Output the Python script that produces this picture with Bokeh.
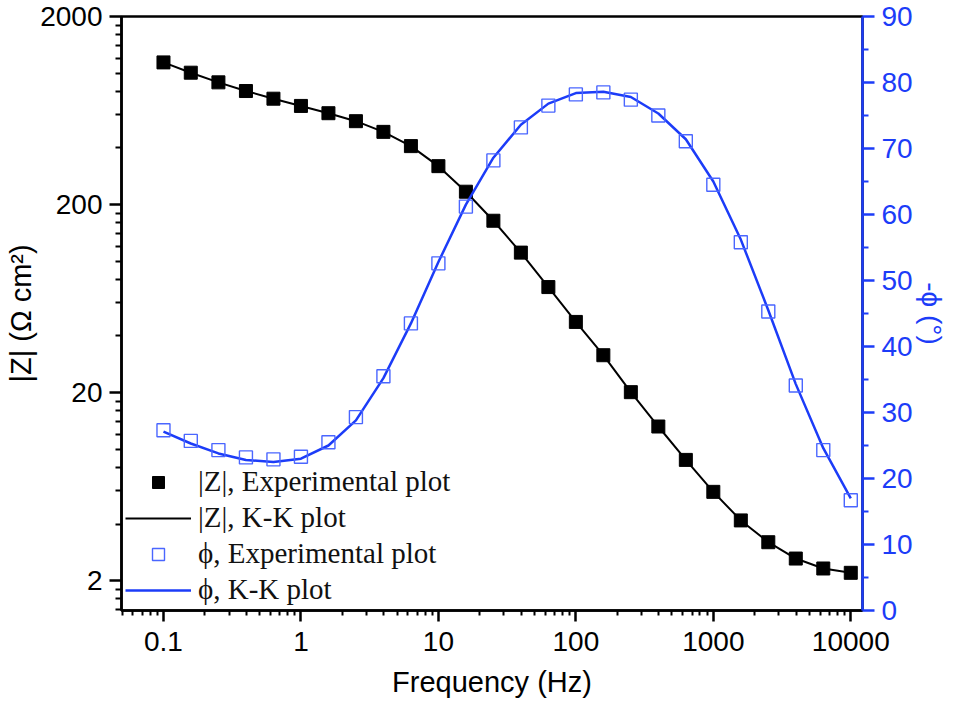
from bokeh.plotting import figure
from bokeh.models import (LinearAxis, Range1d, LinearScale, FixedTicker,
                          CustomJSTickFormatter, Legend, LegendItem)
from bokeh.embed import file_html
from bokeh.resources import INLINE

# ---- data ----
freq = [0.1, 0.158, 0.251, 0.398, 0.631, 1.0, 1.585, 2.512, 3.981, 6.31,
        10.0, 15.85, 25.12, 39.81, 63.1, 100.0, 158.5, 251.2, 398.1, 631.0,
        1000.0, 1585.0, 2512.0, 3981.0, 6310.0, 10000.0]
z_exp = [1140, 1005, 893, 803, 731, 669, 612, 555, 487, 409,
         320, 234, 164, 111, 72.8, 47.5, 31.6, 20.1, 13.2, 8.77,
         5.93, 4.18, 3.20, 2.62, 2.32, 2.20]
z_kk = [1140, 1005, 893, 803, 731, 669, 612, 555, 487, 409,
        320, 234, 164, 111, 72.8, 47.5, 31.6, 20.1, 13.2, 8.77,
        5.93, 4.18, 3.20, 2.62, 2.32, 2.20]
phi_exp = [27.3, 25.7, 24.3, 23.2, 22.9, 23.3, 25.5, 29.3, 35.5, 43.5,
           52.6, 61.2, 68.2, 73.2, 76.5, 78.2, 78.5, 77.4, 75.0, 71.1,
           64.5, 55.8, 45.3, 34.1, 24.3, 16.7]
phi_kk = [27.1, 25.3, 23.8, 22.8, 22.5, 23.0, 25.0, 28.8, 35.2, 43.5,
          52.8, 61.5, 68.6, 73.6, 76.8, 78.4, 78.6, 77.8, 75.3, 71.4,
          65.0, 56.2, 45.5, 34.3, 24.6, 17.0]

x_major = [0.1, 1, 10, 100, 1000, 10000]
y_major = [2, 20, 200, 2000]
phi_major = [0, 10, 20, 30, 40, 50, 60, 70, 80, 90]

BLUE = "#1c3cf8"
BLUE_M = "#4a66ff"
TICK_FONT = "Liberation Sans"

p = figure(width=953, height=701, x_axis_type="log", y_axis_type="log",
           x_range=Range1d(0.0495, 12170), y_range=Range1d(1.387, 2000),
           output_backend="svg", toolbar_location=None,
           min_border_left=121, min_border_right=91,
           min_border_top=16, min_border_bottom=91)
p.extra_y_ranges = {"phase": Range1d(0, 90)}
p.extra_y_scales = {"phase": LinearScale()}
p.grid.visible = False
p.outline_line_color = "black"
p.outline_line_width = 2.5
p.outline_line_alpha = 1.0

# glyphs
zl = p.line(freq, z_kk, color="black", line_width=2)
zs = p.scatter(freq, z_exp, marker="square", size=13, color="black")
pl = p.line(freq, phi_kk, color=BLUE, line_width=2.5, y_range_name="phase")
ps = p.scatter(freq, phi_exp, marker="square", size=13, fill_color=None,
               line_color=BLUE_M, line_width=1.4, y_range_name="phase")

fmt = CustomJSTickFormatter(code="return tick.toString();")

def style_axis(ax, color):
    ax.axis_line_color = color
    ax.axis_line_width = 2.5
    ax.major_tick_line_color = color
    ax.minor_tick_line_color = color
    ax.major_tick_line_width = 2.5
    ax.minor_tick_line_width = 2
    ax.major_tick_in = 0
    ax.major_tick_out = 12
    ax.minor_tick_in = 0
    ax.minor_tick_out = 6
    ax.major_label_text_font = TICK_FONT
    ax.major_label_text_font_size = "28px"
    ax.major_label_text_color = color
    ax.axis_label_text_font = TICK_FONT
    ax.axis_label_text_font_size = "29px"
    ax.axis_label_text_font_style = "normal"
    ax.axis_label_text_color = color

# x axis
xa = p.xaxis[0]
xa.ticker = FixedTicker(ticks=x_major,
                        minor_ticks=[d * m for d in (0.01, 0.1, 1, 10, 100, 1000)
                                     for m in range(2, 10)])
xa.formatter = fmt
style_axis(xa, "black")
xa.major_tick_out = 11
xa.minor_tick_out = 5
xa.major_label_standoff = 10
xa.axis_label = "Frequency (Hz)"
xa.axis_label_standoff = 12

# left axis
ya = p.yaxis[0]
ya.ticker = FixedTicker(ticks=y_major,
                        minor_ticks=[d * m for d in (0.2, 2, 20, 200)
                                     for m in range(2, 10)])
ya.formatter = fmt
style_axis(ya, "black")
ya.major_label_standoff = 7
ya.axis_label = "|Z| (Ω cm²)"
ya.axis_label_standoff = 0

# right axis
ra = LinearAxis(y_range_name="phase",
                ticker=FixedTicker(ticks=phi_major,
                                   minor_ticks=[v + 5 for v in phi_major[:-1]]))
style_axis(ra, BLUE)
ra.major_label_standoff = 7
ra.axis_label = "-ϕ (°)"
ra.axis_label_text_font_size = "28px"
ra.axis_label_standoff = 0
p.add_layout(ra, "right")

legend = Legend(items=[
    LegendItem(label="|Z|, Experimental plot", renderers=[zs]),
    LegendItem(label="|Z|, K-K plot", renderers=[zl]),
    LegendItem(label="ϕ, Experimental plot", renderers=[ps]),
    LegendItem(label="ϕ, K-K plot", renderers=[pl]),
], location=(4, 4))
legend.label_text_font = "Liberation Serif"
legend.label_text_font_size = "29px"
legend.label_text_color = "#111111"
legend.glyph_width = 66
legend.glyph_height = 30
legend.label_height = 30
legend.label_standoff = 7
legend.spacing = 3
legend.padding = 0
legend.margin = 0
legend.border_line_color = None
legend.background_fill_alpha = 0
p.add_layout(legend)

open("out.html", "w").write(file_html(p, INLINE))
